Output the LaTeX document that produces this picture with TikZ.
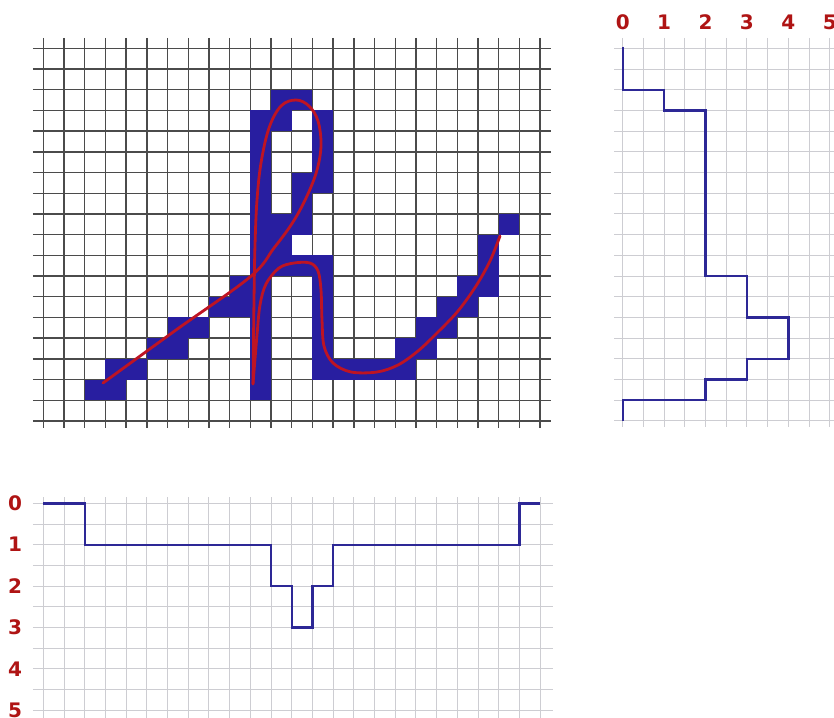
\documentclass[tikz,border=0pt]{standalone}
\usepackage{fontspec}
\newfontfamily\labfont{DejaVu Sans}
\definecolor{gridmain}{RGB}{75,75,75}
\definecolor{gridlight}{RGB}{205,205,210}
\definecolor{cellblue}{RGB}{40,30,160}
\definecolor{stepblue}{RGB}{45,40,150}
\definecolor{strokered}{RGB}{190,20,35}
\definecolor{labred}{RGB}{175,20,20}
\tikzset{
  maingrid/.style={draw=gridmain,line width=1.4pt},
  lightgrid/.style={draw=gridlight,line width=0.9pt},
  cellfill/.style={fill=cellblue},
  steppath/.style={draw=stepblue,line width=2.4pt,line join=miter},
  inkstroke/.style={draw=strokered,line width=2.8pt,line cap=round,line join=round},
  axislabel/.style={text=labred,font=\labfont\bfseries\fontsize{20}{24}\selectfont,inner sep=0pt}
}
\begin{document}
\begin{tikzpicture}[x=1pt,y=-1pt]
\useasboundingbox (0,0) rectangle (834,717);
\clip (0,0) rectangle (834,717);
\fill[white] (0,0) rectangle (834,717);

% ---------- main pixel grid ----------
\begin{scope}[shift={(43.3pt,-48.3pt)},x=20.7pt,y=-20.7pt]
  \foreach \c in {0,...,24} \draw[maingrid] (\c,-0.5) -- (\c,18.35);
  \foreach \r in {0,...,18} \draw[maingrid] (-0.5,\r) -- (24.55,\r);
  \foreach \c/\r in {11/2,12/2,
      10/3,11/3,13/3,
      10/4,13/4,
      10/5,13/5,
      10/6,12/6,13/6,
      10/7,12/7,
      10/8,11/8,12/8,22/8,
      10/9,11/9,21/9,
      10/10,11/10,12/10,13/10,21/10,
      9/11,10/11,13/11,20/11,21/11,
      8/12,9/12,10/12,13/12,19/12,20/12,
      6/13,7/13,10/13,13/13,18/13,19/13,
      5/14,6/14,10/14,13/14,17/14,18/14,
      3/15,4/15,10/15,13/15,14/15,15/15,16/15,17/15,
      2/16,3/16,10/16}
    \fill[cellfill] (\c,\r) rectangle ++(1,1);
\end{scope}

% ---------- handwritten stroke ----------
\draw[inkstroke] plot[smooth,tension=0.6] coordinates {
  (103,383) (176,330) (250,277) (274,248) (293,222) (307,196) (317,170)
  (321,145) (318,121) (309,106) (296,100) (281,106) (269,128) (261,163)
  (257,200) (255,245) (254,300) (253,384)};
\draw[inkstroke] plot[smooth,tension=0.55] coordinates {
  (253,384) (257,335) (260,305) (266,284) (279,268) (294,263) (310,263)
  (318,271) (321,290) (322,320) (324,346) (333,363) (351,372) (377,372)
  (398,365) (418,351) (438,332) (458,311) (476,286) (490,261) (500,236)};

% ---------- right histogram (rows) ----------
\begin{scope}[shift={(622.7pt,-48.3pt)},x=20.7pt,y=-20.7pt]
  \foreach \c in {0,...,10} \draw[lightgrid] (\c,-0.5) -- (\c,18.3);
  \foreach \r in {0,...,18} \draw[lightgrid] (-0.4,\r) -- (10.5,\r);
  \draw[steppath] (0,-0.08) -- (0,2) -- (2,2) -- (2,3) -- (4,3) -- (4,11)
    -- (6,11) -- (6,13) -- (8,13) -- (8,15) -- (6,15) -- (6,16) -- (4,16)
    -- (4,17) -- (0,17) -- (0,18);
\end{scope}
\foreach \k in {0,...,5}
  \node[axislabel] (top\k) at ({622.7+41.4*\k},22) {\k};

% ---------- bottom histogram (columns) ----------
\begin{scope}[shift={(43.3pt,-503.3pt)},x=20.7pt,y=-20.7pt]
  \foreach \c in {0,...,24} \draw[lightgrid] (\c,-0.3) -- (\c,11);
  \foreach \r in {0,...,10} \draw[lightgrid] (-0.5,\r) -- (24.6,\r);
  \draw[steppath] (0,0) -- (2,0) -- (2,2) -- (11,2) -- (11,4) -- (12,4)
    -- (12,6) -- (13,6) -- (13,4) -- (14,4) -- (14,2) -- (23,2) -- (23,0)
    -- (24,0);
\end{scope}
\foreach \k in {0,...,5}
  \node[axislabel] (left\k) at (15,{503.3+41.4*\k}) {\k};
\end{tikzpicture}
\end{document}
